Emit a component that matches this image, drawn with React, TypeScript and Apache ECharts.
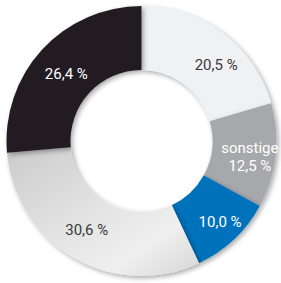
import React, { useEffect, useRef } from "react";
import * as echarts from "echarts";

const categories = ["Segment A", "sonstige", "Segment C", "Segment D", "Segment E"];
const values = [20.5, 12.5, 10.0, 30.6, 26.4];
const labelTexts = ["20,5 %", "sonstige\n12,5 %", "10,0 %", "30,6 %", "26,4 %"];

const colors: any[] = [
  "#f0f1f3",
  "#a7a8ab",
  "#0071bb",
  new echarts.graphic.LinearGradient(0, 0, 1, 1, [
    { offset: 0, color: "#cbcbcb" },
    { offset: 0.45, color: "#e2e2e2" },
    { offset: 0.75, color: "#efefef" },
    { offset: 1, color: "#d6d6d6" },
  ]),
  "#231f20",
];
const textColors = ["#3a3a3c", "#ffffff", "#ffffff", "#3a3a3c", "#ffffff"];
const labelShift = [
  [11, 9],
  [3, 4],
  [6, 4],
  [-2, -3],
  [3, 5],
];

export default function App() {
  const ref = useRef<HTMLDivElement>(null);
  useEffect(() => {
    document.body.style.margin = "0";
    const chart = echarts.init(ref.current!, undefined, { renderer: "svg" });
    chart.setOption({
      animation: false,
      backgroundColor: "#ffffff",
      series: [
        {
          type: "pie",
          center: [141.5, 141],
          radius: [71, 135],
          startAngle: 90,
          clockwise: true,
          silent: true,
          itemStyle: {
            shadowBlur: 5,
            shadowOffsetX: 2,
            shadowOffsetY: 2,
            shadowColor: "rgba(0,0,0,0.35)",
          },
          label: {
            show: true,
            position: "inside",
            fontFamily: "Roboto",
            fontWeight: "normal",
            fontSize: 15,
            lineHeight: 18,
            align: "center",
          },
          labelLine: { show: false },
          labelLayout: (p: any) => ({
            dx: labelShift[p.dataIndex][0],
            dy: labelShift[p.dataIndex][1],
          }),
          data: categories.map((name, i) => ({
            name,
            value: values[i],
            itemStyle: { color: colors[i] },
            label: { formatter: labelTexts[i], color: textColors[i] },
          })),
        },
      ],
    });
    return () => chart.dispose();
  }, []);
  return <div ref={ref} style={{ width: 281, height: 283 }} />;
}
